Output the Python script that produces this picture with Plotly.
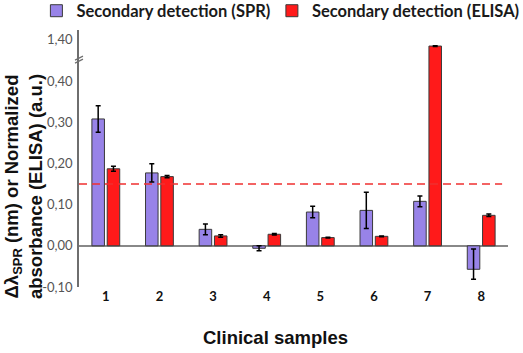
import plotly.graph_objects as go

# ---- data ----
samples = ["1", "2", "3", "4", "5", "6", "7", "8"]
spr = [0.308, 0.177, 0.040, -0.006, 0.082, 0.086, 0.108, -0.057]
spr_err_plus = [0.032, 0.022, 0.013, 0.006, 0.014, 0.044, 0.013, 0.049]
spr_err_minus = [0.032, 0.022, 0.013, 0.006, 0.014, 0.044, 0.013, 0.024]
elisa = [0.187, 0.168, 0.024, 0.028, 0.020, 0.023, 1.25, 0.074]
elisa_err = [0.006, 0.003, 0.003, 0.002, 0.001, 0.001, 0.010, 0.003]
threshold = 0.15

tick_vals_real = [-0.10, 0.00, 0.10, 0.20, 0.30, 0.40, 1.40]
tick_text = ["-0,10", "0,00", "0,10", "0,20", "0,30", "0,40", "1,40"]

# broken axis: values above BREAK are compressed by factor COMPRESS
BREAK = 0.40
COMPRESS = 0.1
BREAK_MARK = 0.92  # real value where the // break symbol sits


def tr(v):
    return v if v <= BREAK else BREAK + (v - BREAK) * COMPRESS


def tr_list(vals):
    return [tr(v) for v in vals]


def err_up(vals, errs):
    return [tr(v + e) - tr(v) for v, e in zip(vals, errs)]


def err_down(vals, errs):
    return [tr(v) - tr(v - e) for v, e in zip(vals, errs)]


PURPLE = "#9883E8"
RED = "#FF1A1A"
AXIS_GREY = "#6E6E6E"

fig = go.Figure()
fig.add_trace(go.Bar(
    x=samples, y=tr_list(spr), name="Secondary detection (SPR)",
    legendwidth=190.5,
    marker=dict(color=PURPLE, line=dict(color="#3A3A3A", width=1)),
    error_y=dict(type="data", array=err_up(spr, spr_err_plus),
                 arrayminus=err_down(spr, spr_err_minus), symmetric=False,
                 color="black", thickness=1.5, width=2.5),
))
fig.add_trace(go.Bar(
    x=samples, y=tr_list(elisa), name="Secondary detection (ELISA)",
    marker=dict(color=RED, line=dict(color="#3A3A3A", width=1)),
    error_y=dict(type="data", array=err_up(elisa, elisa_err),
                 arrayminus=err_down(elisa, elisa_err), symmetric=False,
                 color="black", thickness=1.5, width=2.5),
))

# threshold dashed line
fig.add_shape(type="line", xref="x", yref="y", x0=-0.5, x1=7.39,
              y0=threshold, y1=threshold,
              line=dict(color="#F03030", width=1.5, dash="8px,5px"), layer="above")

# break marks on the y axis
ybreak = tr(BREAK_MARK)
for off in (-1.5, 1.5):
    fig.add_shape(type="line", xref="paper", yref="y",
                  xsizemode="pixel", xanchor=0, x0=-4, x1=4,
                  ysizemode="pixel", yanchor=ybreak, y0=off - 2, y1=off + 2,
                  line=dict(color=AXIS_GREY, width=1.2), layer="above")

fig.update_layout(
    width=523, height=353,
    margin=dict(l=79, r=15, t=30, b=66, autoexpand=False),
    paper_bgcolor="white", plot_bgcolor="white",
    barmode="group", bargap=0.43, bargroupgap=0.18,
    showlegend=True,
    legend=dict(orientation="h", x=-0.0993, xanchor="left", y=1.074, yanchor="middle",
                font=dict(family="Lato", size=16.5, color="#1A1A1A", weight="bold"),
                bgcolor="rgba(0,0,0,0)", itemclick=False),
    xaxis=dict(type="category", range=[-0.5, 7.5], showline=False, ticks="",
               showgrid=False, zeroline=False,
               tickfont=dict(family="Lato", size=13, color="#111", weight="bold")),
    yaxis=dict(range=[-0.10, 0.524], tickvals=tr_list(tick_vals_real), ticktext=tick_text,
               showline=True, linecolor=AXIS_GREY, linewidth=1.5, ticks="",
               ticklabelstandoff=2,
               showgrid=False, zeroline=True, zerolinecolor="#888888", zerolinewidth=1.5,
               tickfont=dict(family="Lato", size=13, color="#555555")),
)

fig.add_annotation(
    text="Δλ<sub>SPR</sub> (nm) or Normalized<br>absorbance (ELISA) (a.u.)",
    xref="paper", yref="paper", x=-0.1305, y=0.389, xanchor="center", yanchor="middle",
    textangle=-90, showarrow=False,
    font=dict(family="Liberation Sans", size=18.5, color="#111", weight="bold"),
)
fig.add_annotation(
    text="Clinical samples", xref="paper", yref="paper", x=0.459, y=-0.198,
    xanchor="center", yanchor="middle", showarrow=False,
    font=dict(family="Liberation Sans", size=18.5, color="#111", weight="bold"),
)

fig.write_html("out.html")
